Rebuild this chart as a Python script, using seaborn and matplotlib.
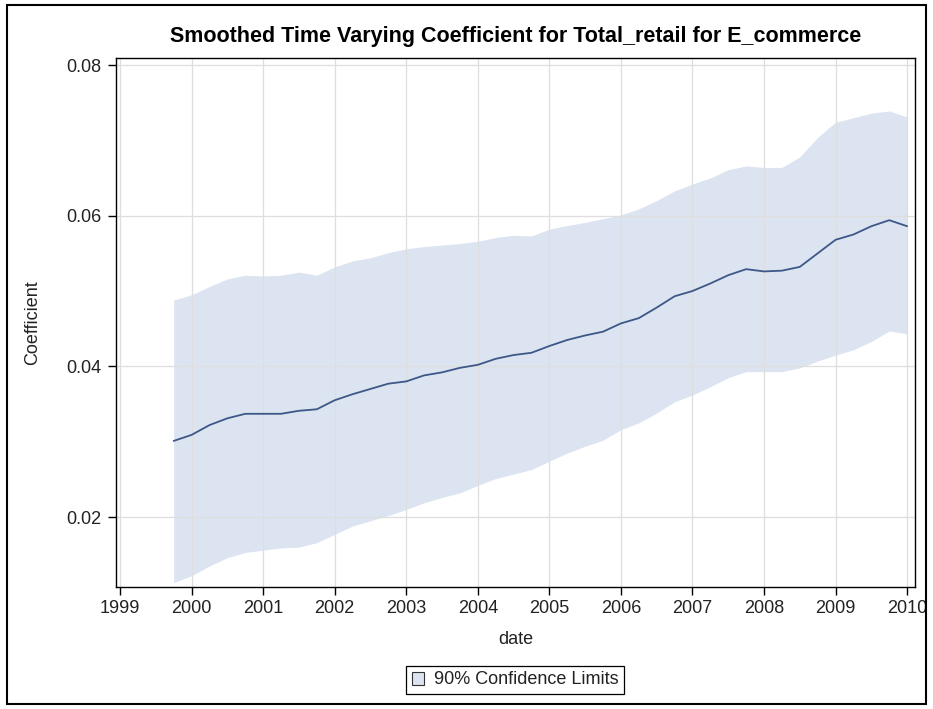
import pandas as pd
import matplotlib
matplotlib.use("Agg")
import matplotlib.pyplot as plt
from matplotlib.patches import Patch, Rectangle
import seaborn as sns

# Quarterly observation dates of the smoothed coefficient
quarters = pd.date_range("1999-10-01", "2010-01-01", freq="QS")

# Smoothed time-varying coefficient
coefficient = [
    0.0301, 0.0309, 0.0322, 0.0331, 0.0337, 0.0337, 0.0337, 0.0341, 0.0343, 0.0355,
    0.0363, 0.0370, 0.0377, 0.0380, 0.0388, 0.0392, 0.0398, 0.0402, 0.0410, 0.0415,
    0.0418, 0.0427, 0.0435, 0.0441, 0.0446, 0.0457, 0.0464, 0.0478, 0.0493, 0.0500,
    0.0510, 0.0521, 0.0529, 0.0526, 0.0527, 0.0532, 0.0550, 0.0568, 0.0575, 0.0586,
    0.0594, 0.0586,
]

# 90% confidence limits
lower_limit = [
    0.0113, 0.0122, 0.0135, 0.0146, 0.0153, 0.0156, 0.0159, 0.0160, 0.0166, 0.0177,
    0.0188, 0.0195, 0.0202, 0.0210, 0.0219, 0.0226, 0.0232, 0.0242, 0.0251, 0.0257,
    0.0263, 0.0274, 0.0285, 0.0294, 0.0302, 0.0316, 0.0325, 0.0338, 0.0353, 0.0362,
    0.0373, 0.0385, 0.0393, 0.0393, 0.0393, 0.0398, 0.0407, 0.0415, 0.0422, 0.0433,
    0.0447, 0.0443,
]
upper_limit = [
    0.0488, 0.0495, 0.0506, 0.0516, 0.0521, 0.0520, 0.0521, 0.0525, 0.0521, 0.0532,
    0.0540, 0.0544, 0.0551, 0.0556, 0.0559, 0.0561, 0.0563, 0.0566, 0.0571, 0.0574,
    0.0573, 0.0582, 0.0587, 0.0591, 0.0596, 0.0601, 0.0609, 0.0620, 0.0633, 0.0642,
    0.0650, 0.0661, 0.0666, 0.0664, 0.0664, 0.0678, 0.0704, 0.0724, 0.0730, 0.0736,
    0.0739, 0.0731,
]

year_ticks = list(range(1999, 2011))
coef_ticks = [0.02, 0.04, 0.06, 0.08]

title = "Smoothed Time Varying Coefficient for Total_retail for E_commerce"
band_label = "90% Confidence Limits"

BAND = "#dbe4f0"
LINE = "#3d5788"
GRID = "#dedede"
TEXT = "#222222"

df = pd.DataFrame({
    "date": quarters.year + (quarters.month - 1) / 12.0,
    "Coefficient": coefficient,
    "lower": lower_limit,
    "upper": upper_limit,
})

sns.set_style("ticks")
plt.rcParams["font.family"] = ["Liberation Sans", "DejaVu Sans"]

W, H = 933, 709
fig = plt.figure(figsize=(W / 100, H / 100), dpi=100)
ax_l, ax_r, ax_t, ax_b = 116, 915, 58, 587
ax = fig.add_axes([ax_l / W, 1 - ax_b / H, (ax_r - ax_l) / W, (ax_b - ax_t) / H])

ax.fill_between(df["date"], df["lower"], df["upper"], color=BAND, linewidth=0, zorder=1)
sns.lineplot(data=df, x="date", y="Coefficient", ax=ax, color=LINE, linewidth=1.3,
             zorder=3, legend=False)

ax.set_xlim(1998.944, 2010.11)
ax.set_ylim(0.01071, 0.08093)
ax.set_xticks(year_ticks)
ax.set_xticklabels([str(y) for y in year_ticks])
ax.set_yticks(coef_ticks)
ax.set_yticklabels([f"{v:.2f}" for v in coef_ticks])

ax.set_axisbelow("line")
ax.grid(True, color=GRID, linewidth=0.9)

for side in ["left", "right", "top", "bottom"]:
    ax.spines[side].set_visible(True)
    ax.spines[side].set_color("black")
    ax.spines[side].set_linewidth(1.0)

ax.tick_params(axis="both", which="major", direction="out", length=5.5, width=1.0,
               color="black", labelsize=13, labelcolor=TEXT)
ax.tick_params(axis="y", pad=5)
ax.tick_params(axis="x", pad=4)

ax.set_title(title, fontsize=15.5, fontweight="bold", color="black", pad=11.5)
ax.set_xlabel("date", fontsize=13, color=TEXT)
ax.set_ylabel("Coefficient", fontsize=13, color=TEXT)
ax.xaxis.set_label_coords(0.5, (ax_b - 631) / (ax_b - ax_t))
ax.yaxis.set_label_coords((41 - ax_l) / (ax_r - ax_l), 0.5)

handle = Patch(facecolor=BAND, edgecolor="#333333", linewidth=0.8)
fig.legend(handles=[handle], labels=[band_label], loc="center",
           bbox_to_anchor=(515 / W, 1 - 680 / H), frameon=True, fancybox=False,
           edgecolor="black", framealpha=1, fontsize=13, handlelength=0.7,
           handleheight=0.7, handletextpad=0.5, borderpad=0.3, borderaxespad=0)
leg = fig.legends[0]
leg.get_frame().set_linewidth(0.9)
for txt in leg.get_texts():
    txt.set_color(TEXT)

# Outer frame around the whole graphic
fig.patches.append(Rectangle((7 / W, 5 / H), (W - 14) / W, (H - 10) / H,
                             transform=fig.transFigure, fill=False,
                             edgecolor="black", linewidth=1.5))

fig.savefig("out.png", dpi=100)
